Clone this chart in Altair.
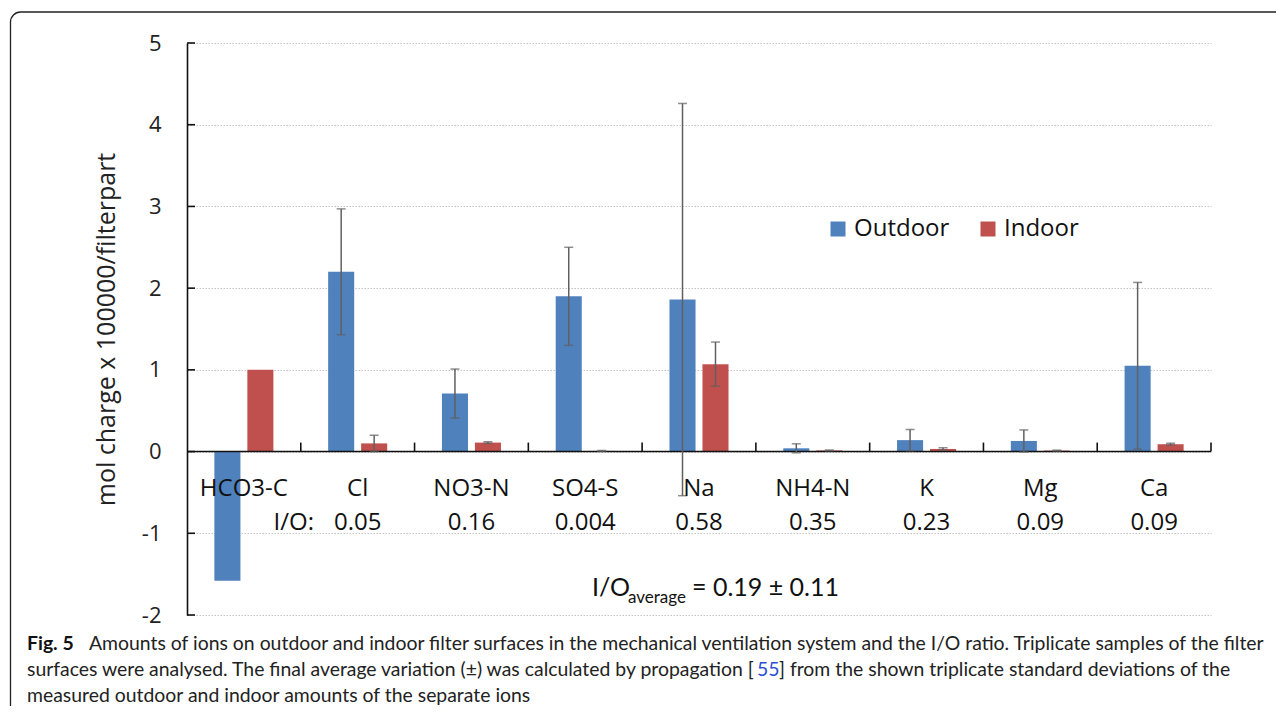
import altair as alt
import pandas as pd

categories = ["HCO3-C", "Cl", "NO3-N", "SO4-S", "Na", "NH4-N", "K", "Mg", "Ca"]
series = ["Outdoor", "Indoor"]
outdoor = [-1.58, 2.20, 0.71, 1.90, 1.86, 0.04, 0.14, 0.13, 1.05]
outdoor_sd = [None, 0.77, 0.30, 0.60, 2.40, 0.055, 0.13, 0.135, 1.02]
indoor = [1.00, 0.10, 0.11, 0.008, 1.07, 0.014, 0.032, 0.012, 0.09]
indoor_sd = [None, 0.10, 0.01, 0.005, 0.27, 0.005, 0.015, 0.005, 0.012]
io_ratio = ["", "0.05", "0.16", "0.004", "0.58", "0.35", "0.23", "0.09", "0.09"]
y_ticks = [-2, -1, 0, 1, 2, 3, 4, 5]
colors = ["#4F81BD", "#C0504D"]

rows = []
for i, c in enumerate(categories):
    rows.append({"cat": c, "series": "Outdoor", "value": outdoor[i], "sd": outdoor_sd[i]})
    rows.append({"cat": c, "series": "Indoor", "value": indoor[i], "sd": indoor_sd[i]})
df = pd.DataFrame(rows)
err = df.dropna(subset=["sd"]).copy()
err["lo"] = err["value"] - err["sd"]
err["hi"] = err["value"] + err["sd"]

cat_df = pd.DataFrame({"cat": categories, "io": io_ratio})
tick_df = pd.DataFrame({"t": y_ticks})
one = pd.DataFrame({"k": [0]})

W, H = 1024, 572
FONT = "Open Sans"

xs = alt.Scale(domain=categories, paddingInner=0, paddingOuter=0)
xo = alt.Scale(domain=series, paddingInner=0.21, paddingOuter=0.83)
ys = alt.Scale(domain=[-2, 5], nice=False, zero=False)

bars = alt.Chart(df).mark_bar().encode(
    x=alt.X("cat:N", scale=xs, axis=None, sort=categories),
    xOffset=alt.XOffset("series:N", scale=xo, sort=series),
    y=alt.Y("value:Q", scale=ys,
            axis=alt.Axis(values=y_ticks, title="mol charge x 100000/filterpart",
                          labelExpr="'' + datum.value",
                          ticks=False, labelPadding=26, grid=True,
                          titlePadding=22)),
    color=alt.Color("series:N", scale=alt.Scale(domain=series, range=colors),
                    legend=alt.Legend(orient="none", legendX=639, legendY=174,
                                      direction="horizontal", title=None,
                                      symbolType="square", symbolSize=225,
                                      symbolStrokeWidth=0, labelFontSize=24,
                                      labelFont=FONT, labelColor="#111",
                                      labelOffset=4, columnPadding=26, padding=0)),
)

zero_line = alt.Chart(one).mark_rule(color="#111", strokeWidth=1.6).encode(
    y=alt.datum(0, scale=ys)
)

bound_ticks = alt.Chart(cat_df).mark_rule(color="#111", strokeWidth=1.6).encode(
    x=alt.X("cat:N", scale=xs, bandPosition=1, sort=categories),
    y=alt.datum(0),
    y2=alt.datum(0.11),
)

y_inner_ticks = alt.Chart(tick_df).mark_rule(color="#111", strokeWidth=1.6).encode(
    y=alt.Y("t:Q", scale=ys),
    x=alt.value(0),
    x2=alt.value(8),
)

err_rule = alt.Chart(err).mark_rule(color="#606060", strokeWidth=1.5).encode(
    x=alt.X("cat:N", scale=xs, sort=categories),
    xOffset=alt.XOffset("series:N", scale=xo, sort=series),
    y=alt.Y("lo:Q", scale=ys),
    y2="hi:Q",
)
cap_lo = alt.Chart(err).mark_tick(color="#606060", size=9, thickness=1.5).encode(
    x=alt.X("cat:N", scale=xs, sort=categories),
    xOffset=alt.XOffset("series:N", scale=xo, sort=series),
    y=alt.Y("lo:Q", scale=ys),
)
cap_hi = alt.Chart(err).mark_tick(color="#606060", size=9, thickness=1.5).encode(
    x=alt.X("cat:N", scale=xs, sort=categories),
    xOffset=alt.XOffset("series:N", scale=xo, sort=series),
    y=alt.Y("hi:Q", scale=ys),
)

cat_labels = alt.Chart(cat_df).mark_text(font=FONT, fontSize=24, color="#111",
                                         baseline="middle").encode(
    x=alt.X("cat:N", scale=xs, sort=categories),
    y=alt.value(446),
    text="cat:N",
)
io_labels = alt.Chart(cat_df).mark_text(font=FONT, fontSize=24, color="#111",
                                        baseline="middle").encode(
    x=alt.X("cat:N", scale=xs, sort=categories),
    y=alt.value(480),
    text="io:N",
)
io_prefix = alt.Chart(one).mark_text(text="I/O:", font=FONT, fontSize=24, color="#111",
                                     align="right", baseline="middle").encode(
    x=alt.value(127), y=alt.value(480)
)
avg1 = alt.Chart(one).mark_text(text="I/O", font="Lato", fontSize=25, color="#111",
                                align="left", baseline="middle").encode(
    x=alt.value(405), y=alt.value(545)
)
avg2 = alt.Chart(one).mark_text(text="average", font="Lato", fontSize=17, color="#111",
                                align="left", baseline="middle").encode(
    x=alt.value(441), y=alt.value(555)
)
avg3 = alt.Chart(one).mark_text(text="= 0.19 ± 0.11", font="Lato", fontSize=25, color="#111",
                                align="left", baseline="middle").encode(
    x=alt.value(505), y=alt.value(545)
)

CAP = "Lato"
CS = 19.4
cap1a = alt.Chart(one).mark_text(text="Fig. 5", font=CAP, fontSize=CS, fontWeight="bold",
                                 color="#111", align="left", baseline="middle").encode(
    x=alt.value(-160), y=alt.value(601))
cap1b = alt.Chart(one).mark_text(
    text="Amounts of ions on outdoor and indoor filter surfaces in the mechanical ventilation system and the I/O ratio. Triplicate samples of the filter",
    font=CAP, fontSize=CS, color="#222", align="left", baseline="middle").encode(
    x=alt.value(-98), y=alt.value(601))
cap2a = alt.Chart(one).mark_text(
    text="surfaces were analysed. The final average variation (±) was calculated by propagation [",
    font=CAP, fontSize=CS, color="#222", align="left", baseline="middle").encode(
    x=alt.value(-160), y=alt.value(627))
cap2b = alt.Chart(one).mark_text(text="55", font=CAP, fontSize=CS, color="#2a4fd6",
                                 align="left", baseline="middle").encode(
    x=alt.value(570), y=alt.value(627))
cap2c = alt.Chart(one).mark_text(
    text="] from the shown triplicate standard deviations of the",
    font=CAP, fontSize=CS, color="#222", align="left", baseline="middle").encode(
    x=alt.value(592), y=alt.value(627))
cap3 = alt.Chart(one).mark_text(
    text="measured outdoor and indoor amounts of the separate ions",
    font=CAP, fontSize=CS, color="#222", align="left", baseline="middle").encode(
    x=alt.value(-160), y=alt.value(653))

frame = alt.Chart(one).mark_rect(fillOpacity=0, stroke="#222", strokeWidth=1.3,
                                 cornerRadius=10).encode(
    x=alt.value(-176.5), x2=alt.value(1110), y=alt.value(-31), y2=alt.value(700)
)

chart = alt.layer(
    frame, bars, zero_line, bound_ticks, y_inner_ticks, err_rule, cap_lo, cap_hi,
    cat_labels, io_labels, io_prefix, avg1, avg2, avg3,
    cap1a, cap1b, cap2a, cap2b, cap2c, cap3,
).properties(
    width=W, height=H,
    padding={"left": 179, "top": 35, "right": 65, "bottom": 91},
    autosize=alt.AutoSizeParams(type="none"),
).configure_view(stroke=None).configure_axis(
    labelFont=FONT, labelFontSize=22, labelColor="#222",
    titleFont=FONT, titleFontSize=25, titleColor="#222", titleFontWeight="normal",
    domainColor="#111", domainWidth=1.6,
    gridColor="#c4c4c4", gridDash=[1.5, 1.5], gridWidth=1,
)

chart.save("out.html", embed_options={"renderer": "svg", "actions": False})
